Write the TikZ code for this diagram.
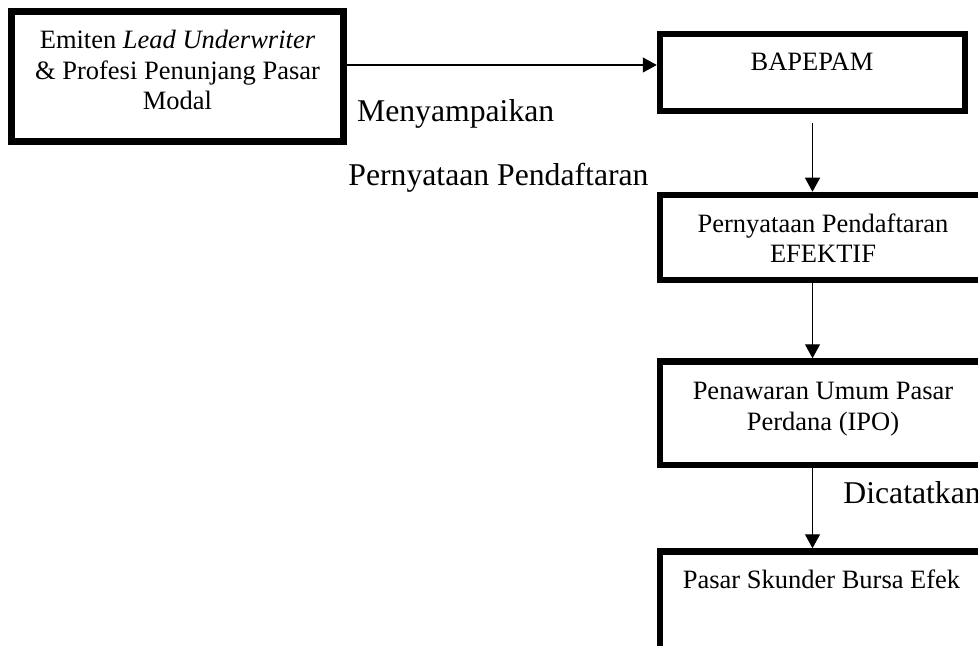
\documentclass[tikz,border=0pt]{standalone}
\usepackage{fontspec}
\setmainfont{Liberation Serif}
\usetikzlibrary{arrows.meta}
\begin{document}
\begin{tikzpicture}[x=0.5pt,y=-0.5pt,
  box/.style={draw, line width=3.25pt, rectangle, inner sep=0pt, fill=white},
  btext/.style={font=\fontsize{13.25pt}{15.3pt}\selectfont, align=center, anchor=base, inner sep=0pt},
  lbl/.style={font=\fontsize{15.85pt}{19pt}\selectfont, anchor=base west, inner sep=0pt},
  arr/.style={line width=0.6pt, -{Triangle[length=7pt,width=7.5pt]}}]
\clip (0,0) rectangle (978,646);
\fill[white] (0,0) rectangle (978,646);
% boxes
\node[box, minimum width=166pt, minimum height=65pt] (b1) at (177.5,76.5) {};
\node[box, minimum width=152.5pt, minimum height=38.5pt] (b2) at (812.5,72.5) {};
\node[box, minimum width=163pt, minimum height=42.5pt] (b3) at (823,237.5) {};
\node[box, minimum width=163pt, minimum height=51.75pt] (b4) at (823,413.25) {};
\node[box, minimum width=163pt, minimum height=55pt] (b5) at (823,606.5) {};
% box texts (anchor = baseline of the last line)
\node[btext] (t1) at (177.5,110) {Emiten \textit{Lead Underwriter}\\\& Profesi Penunjang Pasar\\Modal};
\node[btext] (t2) at (812,70.7) {BAPEPAM};
\node[btext] (t3) at (823,263) {Pernyataan Pendaftaran\\EFEKTIF};
\node[btext] (t4) at (823,430) {Penawaran Umum Pasar\\Perdana (IPO)};
\node[btext] (t5) at (821.5,588) {Pasar Skunder Bursa Efek};
% labels
\node[lbl] (l1) at (356.7,121.7) {Menyampaikan};
\node[lbl] (l2) at (348,185.5) {Pernyataan Pendaftaran};
\node[lbl] (l3) at (843,503) {Dicatatkan};
% connectors
\coordinate (ah) at (0,65);
\draw[arr] (b1.east |- ah) -- (b2.west |- ah);
\draw[arr] ([yshift=-4.4pt]b2.south) -- (b2.south |- b3.north);
\draw[arr] (b3.south -| b2.south) -- (b4.north -| b2.south);
\draw[arr] (b4.south -| b2.south) -- (b5.north -| b2.south);
\end{tikzpicture}
\end{document}
